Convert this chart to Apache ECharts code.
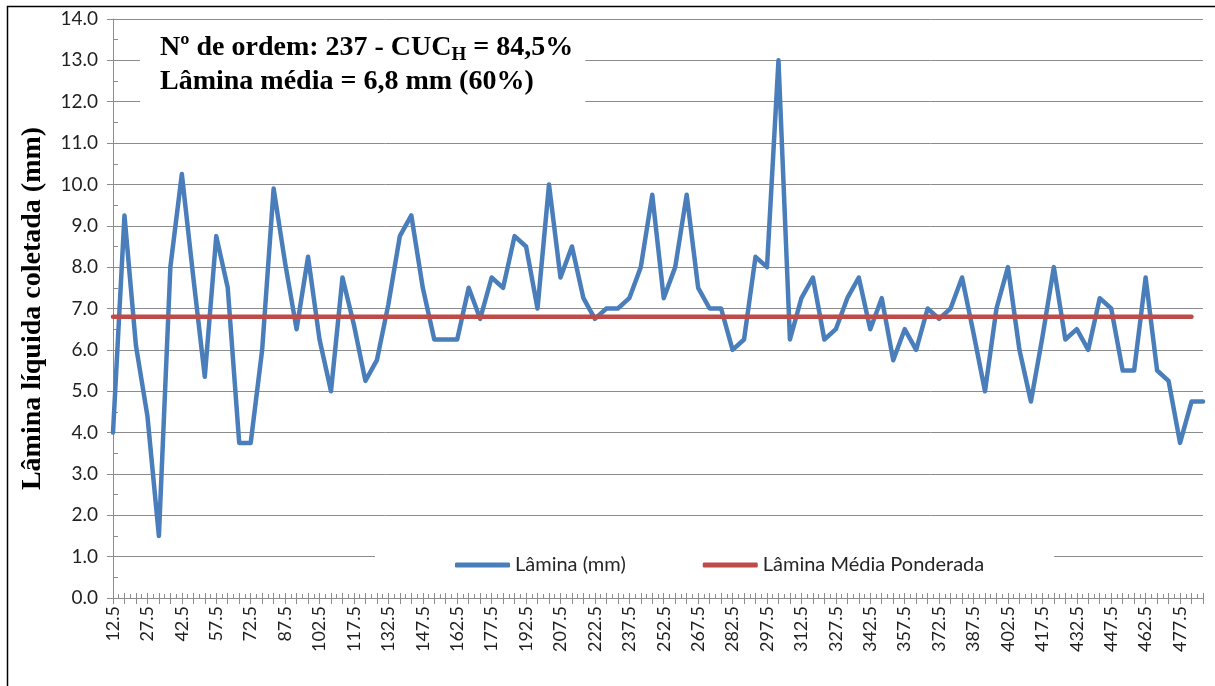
<!DOCTYPE html>
<html lang="pt">
<head>
  <meta charset="UTF-8">
  <title>Lâmina líquida coletada</title>
  <script src="https://cdn.jsdelivr.net/npm/echarts@6/dist/echarts.min.js"></script>
  <style>
    body { margin: 0; background: #fff; }
    #chart { width: 1215px; height: 686px; }
  </style>
</head>
<body>
  <div id="chart"></div>
  <script>
    // posições (m) ao longo da linha lateral
    const posicoes = [];
    for (let p = 12.5; p <= 487.5; p += 5) posicoes.push(p.toFixed(1));

    // lâmina coletada em cada coletor (mm)
    const lamina = [
      4.0, 9.25, 6.1, 4.4, 1.5, 8.0, 10.25, 7.75, 5.35, 8.75,
      7.5, 3.75, 3.75, 6.0, 9.9, 8.1, 6.5, 8.25, 6.25, 5.0,
      7.75, 6.6, 5.25, 5.75, 7.1, 8.75, 9.25, 7.5, 6.25, 6.25,
      6.25, 7.5, 6.75, 7.75, 7.5, 8.75, 8.5, 7.0, 10.0, 7.75,
      8.5, 7.25, 6.75, 7.0, 7.0, 7.25, 8.0, 9.75, 7.25, 8.0,
      9.75, 7.5, 7.0, 7.0, 6.0, 6.25, 8.25, 8.0, 13.0, 6.25,
      7.25, 7.75, 6.25, 6.5, 7.25, 7.75, 6.5, 7.25, 5.75, 6.5,
      6.0, 7.0, 6.75, 7.0, 7.75, 6.4, 5.0, 7.0, 8.0, 6.0,
      4.75, 6.3, 8.0, 6.25, 6.5, 6.0, 7.25, 7.0, 5.5, 5.5,
      7.75, 5.5, 5.25, 3.75, 4.75, 4.75
    ];

    // lâmina média ponderada (mm), vai até o penúltimo coletor
    const laminaMedia = 6.8;
    const mediaPonderada = posicoes.slice(0, 95).map(() => laminaMedia);

    const fonteEixo = 'Lato, "Open Sans", sans-serif';
    const fonteTitulo = '"Liberation Serif", "DejaVu Serif", serif';
    const cinza = '#8c8c8c';

    const chart = echarts.init(document.getElementById('chart'));
    chart.setOption({
      animation: false,
      backgroundColor: '#fff',
      title: {
        left: 140,
        top: 25,
        padding: [6, 12, 8, 20],
        backgroundColor: '#fff',
        text: '{a|Nº de ordem: 237 - CUC}{s|H}{a| = 84,5%}\n{a|Lâmina média = 6,8 mm (60%)}',
        textStyle: {
          rich: {
            a: { fontFamily: fonteTitulo, fontWeight: 'bold', fontSize: 28, lineHeight: 34, color: '#000' },
            s: { fontFamily: fonteTitulo, fontWeight: 'bold', fontSize: 19, lineHeight: 18, verticalAlign: 'bottom', color: '#000' }
          }
        }
      },
      legend: {
        left: 375,
        top: 549,
        padding: [6, 70, 6, 80],
        backgroundColor: '#fff',
        itemGap: 77,
        itemWidth: 55,
        itemHeight: 5,
        icon: 'roundRect',
        textStyle: { fontFamily: fonteEixo, fontSize: 20, color: '#262626' },
        data: ['Lâmina (mm)', 'Lâmina Média Ponderada']
      },
      graphic: [
        { type: 'line', shape: { x1: 7, y1: 6.5, x2: 1215, y2: 6.5 }, style: { stroke: '#000', lineWidth: 1.5 }, z: 100 },
        { type: 'line', shape: { x1: 7.5, y1: 6, x2: 7.5, y2: 686 }, style: { stroke: '#000', lineWidth: 1.5 }, z: 100 }
      ],
      grid: { left: 113, top: 19, width: 1090, height: 579 },
      xAxis: [
        {
          type: 'category',
          data: posicoes,
          boundaryGap: false,
          axisLine: { lineStyle: { color: cinza } },
          axisTick: { show: true, interval: 0, length: 6, lineStyle: { color: cinza } },
          axisLabel: { interval: 2, rotate: 90, margin: 8, fontFamily: fonteEixo, fontSize: 18, color: '#1f1f1f' },
          splitLine: { show: false }
        },
        {
          type: 'value',
          position: 'bottom',
          min: 0,
          max: 95,
          interval: 1,
          axisLine: { show: false },
          axisTick: { show: true, inside: true, length: 5, lineStyle: { color: cinza } },
          minorTick: { show: true, splitNumber: 2, length: 4, lineStyle: { color: cinza } },
          axisLabel: { show: false },
          splitLine: { show: false }
        }
      ],
      yAxis: [
        {
          type: 'value',
          position: 'left',
          min: 0,
          max: 14,
          interval: 1,
          name: 'Lâmina líquida coletada (mm)',
          nameLocation: 'middle',
          nameGap: 66,
          nameTextStyle: { fontFamily: fonteTitulo, fontWeight: 'bold', fontSize: 28, color: '#000' },
          axisLine: { show: true, lineStyle: { color: cinza } },
          axisTick: { show: true, length: 6, lineStyle: { color: cinza } },
          axisLabel: {
            margin: 15,
            fontFamily: fonteEixo,
            fontSize: 19,
            color: '#1f1f1f',
            formatter: v => v.toFixed(1)
          },
          splitLine: { show: true, lineStyle: { color: cinza, width: 1 } }
        },
        {
          type: 'value',
          position: 'left',
          min: 0,
          max: 14,
          interval: 0.5,
          axisLine: { show: false },
          axisTick: { show: true, inside: true, length: 5, lineStyle: { color: cinza } },
          axisLabel: { show: false },
          splitLine: { show: false }
        }
      ],
      series: [
        {
          name: 'Lâmina (mm)',
          type: 'line',
          data: lamina,
          showSymbol: false,
          symbol: 'none',
          itemStyle: { color: '#4A7EBB' },
          lineStyle: { color: '#4A7EBB', width: 4.5, cap: 'round', join: 'round' },
          z: 3
        },
        {
          name: 'Lâmina Média Ponderada',
          type: 'line',
          data: mediaPonderada,
          showSymbol: false,
          symbol: 'none',
          itemStyle: { color: '#BE4B48' },
          lineStyle: { color: '#BE4B48', width: 4.5, cap: 'round' },
          z: 4
        }
      ]
    });
  </script>
</body>
</html>
